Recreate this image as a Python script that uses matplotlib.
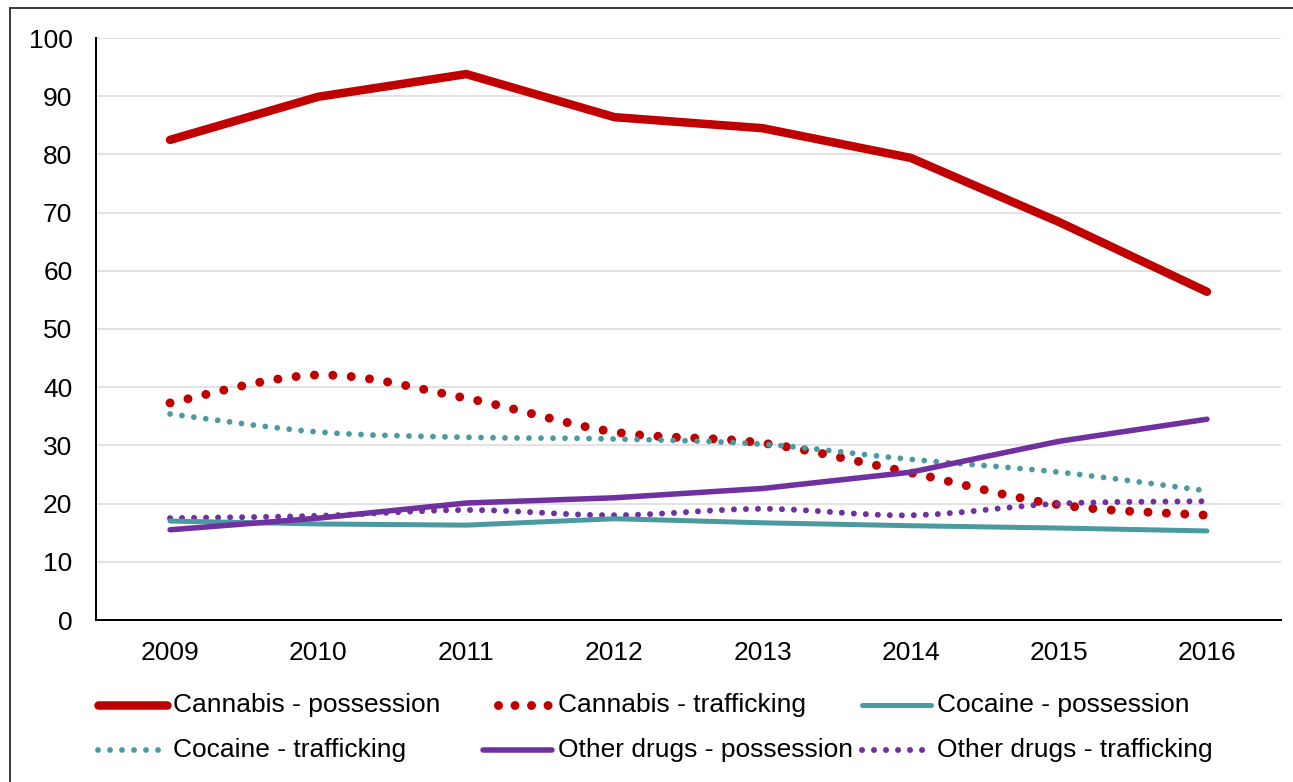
import numpy as np
import matplotlib
matplotlib.use("Agg")
import matplotlib.pyplot as plt
from matplotlib.path import Path
from matplotlib.patches import PathPatch, Rectangle
from matplotlib.lines import Line2D

plt.rcParams["font.family"] = ["Liberation Sans", "DejaVu Sans"]

# =====================================================
# Data
# =====================================================

years = [2009, 2010, 2011, 2012, 2013, 2014, 2015, 2016]

cannabis_possession = [82.5, 89.9, 93.8, 86.4, 84.5, 79.4, 68.4, 56.4]
cannabis_trafficking = [37.3, 42.1, 38.1, 32.3, 30.4, 25.3, 19.8, 18.0]
cocaine_possession = [17.0, 16.5, 16.3, 17.4, 16.7, 16.2, 15.8, 15.3]
cocaine_trafficking = [35.4, 32.3, 31.4, 31.1, 30.2, 27.6, 25.4, 22.2]
other_possession = [15.5, 17.5, 20.1, 21.0, 22.6, 25.4, 30.7, 34.5]
other_trafficking = [17.5, 17.9, 18.9, 18.0, 19.1, 18.0, 20.0, 20.4]

yticks = list(range(0, 101, 10))

RED = "#C00000"
TEAL = "#4A9AA0"
PURPLE = "#7030A0"

PX = 72 / 100  # points per pixel at dpi 100
FS = 19


def smooth_path(x, y):
    # Bezier segments with tangents from neighbouring points (spreadsheet-style smoothing)
    pts = np.column_stack([x, y]).astype(float)
    n = len(pts)
    verts = [pts[0]]
    codes = [Path.MOVETO]
    for i in range(n - 1):
        p0 = pts[i - 1] if i > 0 else pts[i]
        p1 = pts[i]
        p2 = pts[i + 1]
        p3 = pts[i + 2] if i + 2 < n else pts[i + 1]
        c1 = p1 + (p2 - p0) / 6
        c2 = p2 - (p3 - p1) / 6
        verts += [c1, c2, p2]
        codes += [Path.CURVE4] * 3
    return Path(verts, codes)


# style per series: (values, label, colour, width px, dotted, dot spacing px, smoothed)
series = [
    (cannabis_possession, "Cannabis - possession", RED, 8.5, False, 0, False),
    (cannabis_trafficking, "Cannabis - trafficking", RED, 9, True, 18.4, True),
    (cocaine_possession, "Cocaine - possession", TEAL, 5, False, 0, False),
    (cocaine_trafficking, "Cocaine - trafficking", TEAL, 5.8, True, 12, True),
    (other_possession, "Other drugs - possession", PURPLE, 5.5, False, 0, False),
    (other_trafficking, "Other drugs - trafficking", PURPLE, 6, True, 12, True),
]


def line_style(dotted, w, spacing):
    if not dotted:
        return "-"
    return (0, (0.001, spacing / w))


fig = plt.figure(figsize=(12.93, 7.82), dpi=100)
ax = fig.add_axes([96 / 1293, 1 - 620 / 782, (1281 - 96) / 1293, (620 - 38) / 782])

for vals, label, color, w, dotted, spacing, smoothed in series:
    ls = line_style(dotted, w, spacing)
    if smoothed:
        patch = PathPatch(
            smooth_path(years, vals),
            fill=False,
            edgecolor=color,
            linewidth=w * PX,
            linestyle=ls,
            capstyle="round",
            joinstyle="round",
        )
        ax.add_patch(patch)
    else:
        ax.plot(
            years,
            vals,
            color=color,
            lw=w * PX,
            ls=ls,
            solid_capstyle="round",
            solid_joinstyle="miter",
        )

ax.set_xlim(2008.5, 2016.5)
ax.set_ylim(0, 100)
ax.set_xticks(years)
ax.set_xticklabels([str(y) for y in years])
ax.set_yticks(yticks)

ax.grid(axis="y", color="#D9D9D9", lw=1.5 * PX)
ax.set_axisbelow(True)
for s in ["top", "right"]:
    ax.spines[s].set_visible(False)
ax.spines["left"].set_linewidth(2 * PX)
ax.spines["bottom"].set_linewidth(2 * PX)
ax.tick_params(axis="both", length=0, labelsize=FS, colors="black")
ax.tick_params(axis="y", pad=17)
ax.tick_params(axis="x", pad=15)

# =====================================================
# Legend, laid out as a 3 x 2 grid below the plot
# =====================================================

col_x = [95, 480, 859]
row_y = [705, 750]
for k, (vals, label, color, w, dotted, spacing, smoothed) in enumerate(series):
    r, c = divmod(k, 3)
    x0 = col_x[c]
    yy = 1 - row_y[r] / 782
    ls = line_style(dotted, w, spacing)
    if dotted and w > 8:
        xs = [(x0 + 18) / 1293, (x0 + 68) / 1293]
        spacing_leg = line_style(True, w, 16.5)
        ls = spacing_leg
    else:
        xs = [(x0 + 3) / 1293, (x0 + 72) / 1293]
    fig.add_artist(Line2D(xs, [yy, yy], transform=fig.transFigure,
                          color=color, lw=w * PX, ls=ls,
                          solid_capstyle="round", dash_capstyle="round"))
    fig.text((x0 + 78) / 1293, yy, label, fontsize=FS,
             va="center", ha="left")

# outer frame
fig.add_artist(Rectangle((10 / 1293, -0.05), 1.2, 1 - 8 / 782 + 0.05,
                         transform=fig.transFigure, fill=False,
                         edgecolor="#404040", lw=2 * PX))

fig.savefig("out.png", dpi=100)
